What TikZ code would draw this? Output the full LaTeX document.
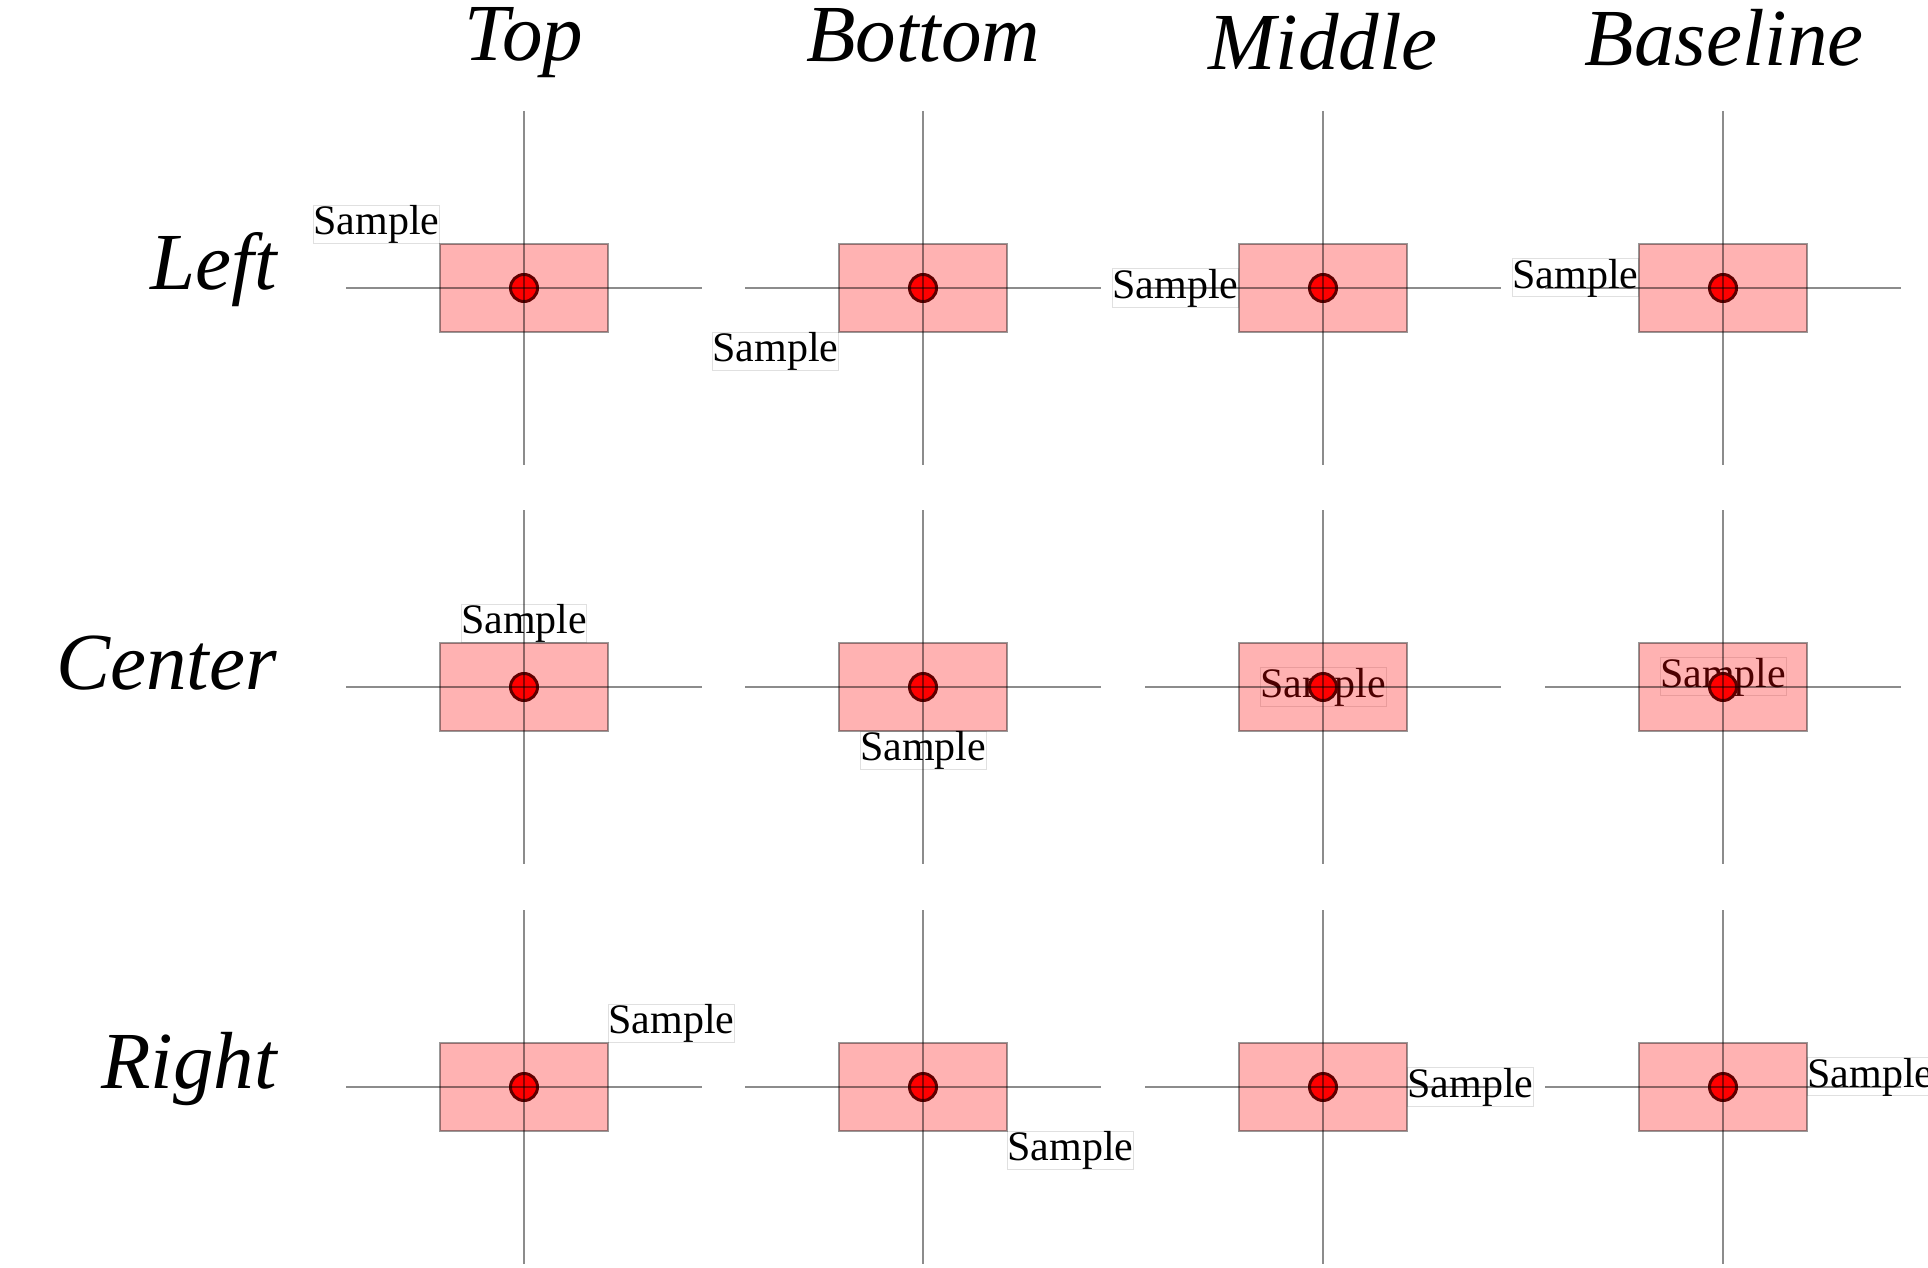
\documentclass[tikz,border=0pt]{standalone}
\usepackage{fontspec}
\setmainfont{Liberation Serif}
\definecolor{ringcol}{RGB}{95,0,0}
\tikzset{
  guide/.style={draw=black, draw opacity=0.45, line width=1.5pt},
  boxrect/.style={rectangle, fill=red, fill opacity=0.3, draw=black, draw opacity=0.4, line width=1.5pt, minimum width=168pt, minimum height=88pt, inner sep=0pt},
  pin/.style={circle, fill=red, draw=ringcol, line width=3pt, minimum size=27pt, inner sep=0pt},
  sample/.style={inner sep=0pt, draw=black!12, line width=1pt, font=\fontsize{42}{50}\selectfont},
  head/.style={inner sep=0pt, font=\fontsize{81}{90}\selectfont\itshape},
}
\begin{document}
\begin{tikzpicture}[x=1pt,y=-1pt]
\useasboundingbox (0,0) rectangle (1928,1268);
% column headers
\node[head, anchor=base] (hTop) at (524,61) {Top};
\node[head, anchor=base] (hBottom) at (923,62) {Bottom};
\node[head, anchor=base] (hMiddle) at (1323,70) {Middle};
\node[head, anchor=base] (hBaseline) at (1724,66) {Baseline};
% row headers
\node[head, anchor=base east] (rLeft) at (277,290) {Left};
\node[head, anchor=base east] (rCenter) at (277,689) {Center};
\node[head, anchor=base east] (rRight) at (277,1088) {Right};
% cells
\foreach \n/\cx/\cy/\dx/\dy/\anc in {
  a/524/288/-84/-44/south east, b/923/288/-84/44/north east, c/1323/288/-84/0/east, d/1723/288/-84/0/base east,
  e/524/687/0/-44/south, f/923/687/0/44/north, g/1323/687/0/0/center, h/1723/687/0/0/base,
  i/524/1087/84/-44/south west, j/923/1087/84/44/north west, k/1323/1087/84/0/west, l/1723/1087/84/0/base west}{
  \node[sample, anchor=\anc] (lab\n) at (\cx+\dx,\cy+\dy) {Sample};
  \node[boxrect] (rect\n) at (\cx,\cy) {};
  \node[pin] (pin\n) at (\cx,\cy) {};
  \coordinate (hl\n) at (\cx-178,\cy);
  \coordinate (hr\n) at (\cx+178,\cy);
  \coordinate (vt\n) at (\cx,\cy-177);
  \coordinate (vb\n) at (\cx,\cy+177);
  \draw[guide] (hl\n) -- (hr\n);
  \draw[guide] (vt\n) -- (vb\n);
}
\end{tikzpicture}
\end{document}
